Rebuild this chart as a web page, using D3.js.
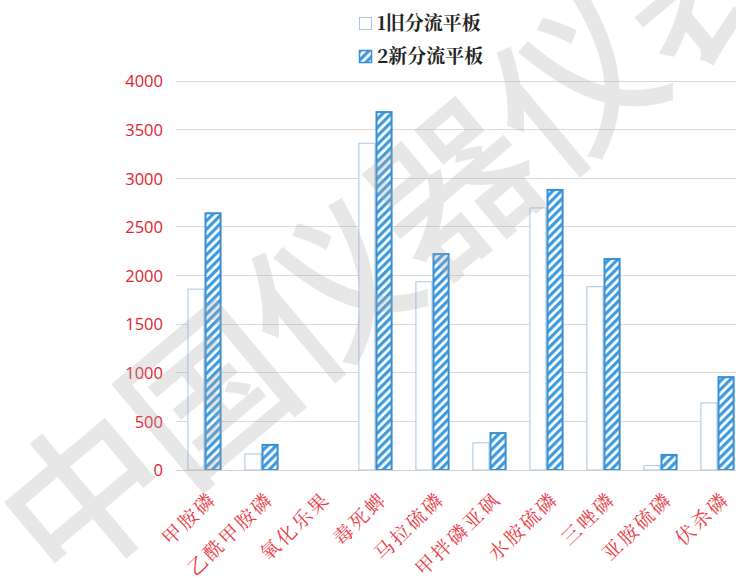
<!DOCTYPE html>
<html><head><meta charset="utf-8">
<script src="https://cdn.jsdelivr.net/npm/d3@7"></script>
<style>body{margin:0;background:#fff}svg{display:block}</style>
</head><body>
<svg id="c" width="736" height="581"></svg>
<script>
const categories = ["甲胺磷","乙酰甲胺磷","氧化乐果","毒死蜱","马拉硫磷","甲拌磷亚砜","水胺硫磷","三唑磷","亚胺硫磷","伏杀磷"];
const seriesNames = ["1旧分流平板","2新分流平板"];
const oldValues = [1860, 165, 0, 3360, 1935, 280, 2695, 1885, 45, 690];
const newValues = [2640, 258, 0, 3680, 2220, 380, 2880, 2170, 155, 955];
const yTicks = [0,500,1000,1500,2000,2500,3000,3500,4000];
const watermark = "中国仪器仪表";

const svg = d3.select("#c");
const W = 736, H = 581;
const y = d3.scaleLinear().domain([0,4000]).range([470,81]);
const x = d3.scaleBand().domain(categories).range([176,746]).paddingInner(0.4).paddingOuter(0.2);
const xs = d3.scaleBand().domain(seriesNames).range([0,x.bandwidth()]);

const defs = svg.append("defs");
const pat = defs.append("pattern").attr("id","hatch").attr("patternUnits","userSpaceOnUse")
  .attr("width",6).attr("height",6).attr("patternTransform","rotate(45)");
pat.append("rect").attr("width",6).attr("height",6).attr("fill","#fff");
pat.append("rect").attr("width",3.2).attr("height",6).attr("fill","#3d9be0");

// grid
const g = svg.append("g");
g.selectAll("line.grid").data(yTicks).join("line")
  .attr("x1",176).attr("x2",W).attr("y1",d=>y(d)).attr("y2",d=>y(d))
  .attr("stroke","#d9d9d9").attr("stroke-width",1).attr("shape-rendering","crispEdges");

const yAxis = d3.axisLeft(y).tickValues(yTicks).tickSize(0).tickPadding(0).tickFormat(d3.format("d"));
const ya = svg.append("g").attr("transform","translate(163,0)").call(yAxis);
ya.select(".domain").remove();
ya.selectAll("text").attr("fill","#e02430").attr("font-family","'Open Sans','Liberation Sans',sans-serif").attr("font-size",16.5).attr("dy","0.35em");

// bars
const groups = svg.append("g").selectAll("g").data(categories).join("g")
  .attr("transform",d=>`translate(${x(d)},0)`);
groups.append("rect")
  .attr("x",xs(seriesNames[0])+0.5).attr("width",xs.bandwidth()-1)
  .attr("y",(d,i)=>y(oldValues[i])).attr("height",(d,i)=>y(0)-y(oldValues[i]))
  .attr("fill","#fff").attr("stroke","#a8c6e4").attr("stroke-width",1)
  .style("display",(d,i)=>oldValues[i]>0?null:"none");
groups.append("rect")
  .attr("x",xs(seriesNames[1])+1).attr("width",xs.bandwidth()-2)
  .attr("y",(d,i)=>y(newValues[i])).attr("height",(d,i)=>y(0)-y(newValues[i]))
  .attr("fill","url(#hatch)").attr("stroke","#3a8fd3").attr("stroke-width",2)
  .style("display",(d,i)=>newValues[i]>0?null:"none");

// x axis line
svg.append("line").attr("x1",176).attr("x2",W).attr("y1",y(0)+0.5).attr("y2",y(0)+0.5).attr("stroke","#d0d0d0");

// x labels
svg.append("g").selectAll("text").data(categories).join("text")
  .attr("transform",d=>`translate(${x(d)+x.bandwidth()/2+3},490) rotate(-44)`)
  .attr("text-anchor","end").attr("dy","0.75em")
  .attr("fill","#ea3a44").attr("font-size",19.5).attr("letter-spacing",2.5)
  .attr("font-family","'Noto Serif CJK SC','Noto Sans CJK SC',serif")
  .text(d=>d);

// legend
const lg = svg.append("g");
const lgItems = lg.selectAll("g").data(seriesNames).join("g").attr("transform",(d,i)=>`translate(359,${17+i*33})`);
lgItems.append("rect").attr("x",0.5).attr("y",0.5).attr("width",12).attr("height",12)
  .attr("fill",(d,i)=>i?"url(#hatch)":"#fff").attr("stroke",(d,i)=>i?"#3a8fd3":"#a8c6e4").attr("stroke-width",(d,i)=>i?1.5:1);
lgItems.append("text").attr("x",18).attr("y",6.5).attr("dy","0.36em")
  .attr("font-size",19).attr("font-weight","bold").attr("fill","#222")
  .attr("font-family","'Noto Serif CJK SC','Noto Sans CJK SC',serif").text(d=>d);

// watermark
svg.append("text").attr("transform","translate(62,595) rotate(-40)")
  .attr("font-size",162).attr("font-weight",500).attr("font-family","'Noto Sans CJK SC',sans-serif")
  .attr("fill","#aaa").attr("fill-opacity",0.28).attr("letter-spacing",-2).text(watermark);
</script>
</body></html>
